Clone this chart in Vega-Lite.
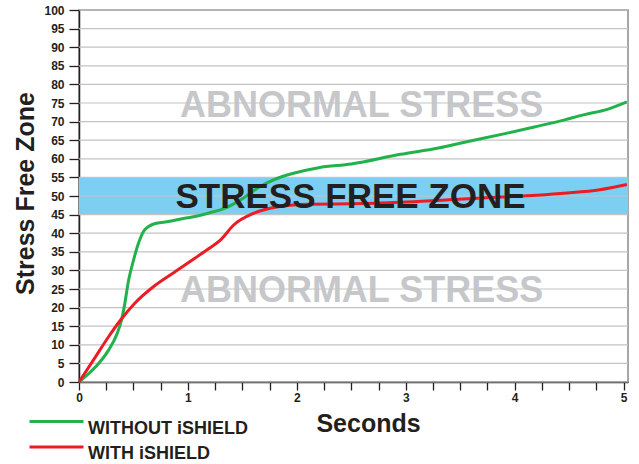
{
  "$schema": "https://vega.github.io/schema/vega-lite/v6.json",
  "width": 549,
  "height": 372,
  "autosize": {"type": "none"},
  "padding": {"left": 79, "top": 10, "right": 11, "bottom": 82},
  "background": "white",
  "config": {
    "font": "Liberation Sans",
    "view": {"stroke": "#8a8a8a", "strokeWidth": 1.5},
    "axis": {
      "grid": false,
      "tickWidth": 1.3,
      "tickColor": "#231f20",
      "domainColor": "#231f20",
      "domainWidth": 1.5,
      "labelFont": "Liberation Sans",
      "labelFontSize": 12,
      "labelFontWeight": "bold",
      "labelColor": "#231f20",
      "titleFont": "Liberation Sans",
      "titleFontSize": 25,
      "titleFontWeight": "bold",
      "titleColor": "#231f20",
      "titleBaseline": "alphabetic",
      "titleAlign": "center"
    }
  },
  "datasets": {
    "band": [{"x": 0, "x2": 5.04, "y": 45, "y2": 55}],
    "abn": [
      {"x": 2.594, "y": 71.3, "label": "ABNORMAL STRESS"},
      {"x": 2.594, "y": 21.5, "label": "ABNORMAL STRESS"}
    ],
    "grid": [
      {"y": 0}, {"y": 5}, {"y": 10}, {"y": 15}, {"y": 20}, {"y": 25}, {"y": 30},
      {"y": 35}, {"y": 40}, {"y": 45}, {"y": 50}, {"y": 55}, {"y": 60}, {"y": 65},
      {"y": 70}, {"y": 75}, {"y": 80}, {"y": 85}, {"y": 90}, {"y": 95}, {"y": 100}
    ],
    "curves": [
      {"series": "WITHOUT iSHIELD", "x": 0, "y": 0},
      {"series": "WITHOUT iSHIELD", "x": 0.15, "y": 4},
      {"series": "WITHOUT iSHIELD", "x": 0.27, "y": 8.5},
      {"series": "WITHOUT iSHIELD", "x": 0.35, "y": 13},
      {"series": "WITHOUT iSHIELD", "x": 0.39, "y": 16.6},
      {"series": "WITHOUT iSHIELD", "x": 0.42, "y": 21},
      {"series": "WITHOUT iSHIELD", "x": 0.45, "y": 26.5},
      {"series": "WITHOUT iSHIELD", "x": 0.5, "y": 32.7},
      {"series": "WITHOUT iSHIELD", "x": 0.545, "y": 37.2},
      {"series": "WITHOUT iSHIELD", "x": 0.6, "y": 40.8},
      {"series": "WITHOUT iSHIELD", "x": 0.7, "y": 42.6},
      {"series": "WITHOUT iSHIELD", "x": 0.79, "y": 43},
      {"series": "WITHOUT iSHIELD", "x": 0.97, "y": 44},
      {"series": "WITHOUT iSHIELD", "x": 1.05, "y": 44.4},
      {"series": "WITHOUT iSHIELD", "x": 1.2, "y": 45.5},
      {"series": "WITHOUT iSHIELD", "x": 1.33, "y": 46.6},
      {"series": "WITHOUT iSHIELD", "x": 1.48, "y": 48.9},
      {"series": "WITHOUT iSHIELD", "x": 1.66, "y": 52.5},
      {"series": "WITHOUT iSHIELD", "x": 1.8, "y": 54.5},
      {"series": "WITHOUT iSHIELD", "x": 1.97, "y": 56.1},
      {"series": "WITHOUT iSHIELD", "x": 2.2, "y": 57.6},
      {"series": "WITHOUT iSHIELD", "x": 2.5, "y": 58.6},
      {"series": "WITHOUT iSHIELD", "x": 2.95, "y": 61.2},
      {"series": "WITHOUT iSHIELD", "x": 3.3, "y": 62.9},
      {"series": "WITHOUT iSHIELD", "x": 3.56, "y": 64.6},
      {"series": "WITHOUT iSHIELD", "x": 3.9, "y": 66.7},
      {"series": "WITHOUT iSHIELD", "x": 4.17, "y": 68.5},
      {"series": "WITHOUT iSHIELD", "x": 4.45, "y": 70.4},
      {"series": "WITHOUT iSHIELD", "x": 4.63, "y": 71.8},
      {"series": "WITHOUT iSHIELD", "x": 4.85, "y": 73.3},
      {"series": "WITHOUT iSHIELD", "x": 5.03, "y": 75.3},
      {"series": "WITH iSHIELD", "x": 0, "y": 0},
      {"series": "WITH iSHIELD", "x": 0.15, "y": 6.7},
      {"series": "WITH iSHIELD", "x": 0.27, "y": 12.1},
      {"series": "WITH iSHIELD", "x": 0.38, "y": 16.6},
      {"series": "WITH iSHIELD", "x": 0.51, "y": 21.1},
      {"series": "WITH iSHIELD", "x": 0.7, "y": 26},
      {"series": "WITH iSHIELD", "x": 0.88, "y": 29.6},
      {"series": "WITH iSHIELD", "x": 1.06, "y": 33.2},
      {"series": "WITH iSHIELD", "x": 1.2, "y": 36},
      {"series": "WITH iSHIELD", "x": 1.3, "y": 38.2},
      {"series": "WITH iSHIELD", "x": 1.42, "y": 42.2},
      {"series": "WITH iSHIELD", "x": 1.6, "y": 45.3},
      {"series": "WITH iSHIELD", "x": 1.8, "y": 47},
      {"series": "WITH iSHIELD", "x": 2.1, "y": 47.8},
      {"series": "WITH iSHIELD", "x": 2.5, "y": 47.9},
      {"series": "WITH iSHIELD", "x": 2.95, "y": 48.3},
      {"series": "WITH iSHIELD", "x": 3.4, "y": 49},
      {"series": "WITH iSHIELD", "x": 3.87, "y": 49.7},
      {"series": "WITH iSHIELD", "x": 4.2, "y": 50.2},
      {"series": "WITH iSHIELD", "x": 4.48, "y": 50.8},
      {"series": "WITH iSHIELD", "x": 4.78, "y": 51.7},
      {"series": "WITH iSHIELD", "x": 5.03, "y": 53.1}
    ],
    "zone": [{"x": 2.493, "y": 46.9, "label": "STRESS FREE ZONE"}]
  },
  "layer": [
    {
      "data": {"name": "band"},
      "mark": {"type": "rect", "color": "#7ccff2"},
      "encoding": {
        "x": {
          "field": "x", "type": "quantitative",
          "scale": {"domain": [0, 5.04], "nice": false, "zero": false},
          "axis": {
            "title": "Seconds",
            "values": [0, 0.25, 0.5, 0.75, 1, 1.25, 1.5, 1.75, 2, 2.25, 2.5, 2.75, 3, 3.25, 3.5, 3.75, 4, 4.25, 4.5, 4.75, 5],
            "tickCount": 30,
            "labelExpr": "datum.value % 1 === 0 ? format(datum.value, 'd') : ''",
            "labelOverlap": false,
            "labelFlush": false,
            "tickSize": 8,
            "labelPadding": 2,
            "titleX": 289,
            "titleY": 49
          }
        },
        "x2": {"field": "x2"},
        "y": {
          "field": "y", "type": "quantitative",
          "scale": {"domain": [0, 100], "nice": false},
          "axis": {
            "title": "Stress Free Zone",
            "values": [0, 5, 10, 15, 20, 25, 30, 35, 40, 45, 50, 55, 60, 65, 70, 75, 80, 85, 90, 95, 100],
            "tickCount": 30,
            "labelOverlap": false,
            "labelFlush": false,
            "tickSize": 10,
            "labelPadding": 5,
            "titleAngle": -90,
            "titleX": -46,
            "titleY": 183
          }
        },
        "y2": {"field": "y2"}
      }
    },
    {
      "data": {"name": "abn"},
      "mark": {"type": "text", "font": "Liberation Sans", "fontSize": 36, "fontWeight": "bold", "color": "#c6c7ca", "align": "center", "baseline": "alphabetic"},
      "encoding": {
        "x": {"field": "x", "type": "quantitative"},
        "y": {"field": "y", "type": "quantitative"},
        "text": {"field": "label"}
      }
    },
    {
      "data": {"name": "grid"},
      "mark": {"type": "rule", "color": "#c3c3c3", "strokeWidth": 1.2},
      "encoding": {
        "y": {"field": "y", "type": "quantitative"}
      }
    },
    {
      "data": {"name": "curves"},
      "mark": {"type": "line", "interpolate": "monotone", "strokeWidth": 3},
      "encoding": {
        "x": {"field": "x", "type": "quantitative"},
        "y": {"field": "y", "type": "quantitative"},
        "color": {
          "field": "series", "type": "nominal",
          "scale": {"domain": ["WITHOUT iSHIELD", "WITH iSHIELD"], "range": ["#22b24c", "#ec1c24"]},
          "legend": {
            "title": null,
            "orient": "none",
            "legendX": -34,
            "legendY": 407,
            "padding": 0,
            "symbolType": "M-2.7,-0.7H2.7",
            "symbolSize": 400,
            "symbolStrokeWidth": 3,
            "labelFont": "Liberation Sans",
            "labelFontSize": 18,
            "labelFontWeight": "bold",
            "labelColor": "#231f20",
            "labelBaseline": "middle",
            "labelOffset": 20,
            "rowPadding": 2.6
          }
        }
      }
    },
    {
      "data": {"name": "zone"},
      "mark": {"type": "text", "font": "Liberation Sans", "fontSize": 35, "fontWeight": "bold", "color": "#231f20", "align": "center", "baseline": "alphabetic"},
      "encoding": {
        "x": {"field": "x", "type": "quantitative"},
        "y": {"field": "y", "type": "quantitative"},
        "text": {"field": "label"}
      }
    }
  ]
}
